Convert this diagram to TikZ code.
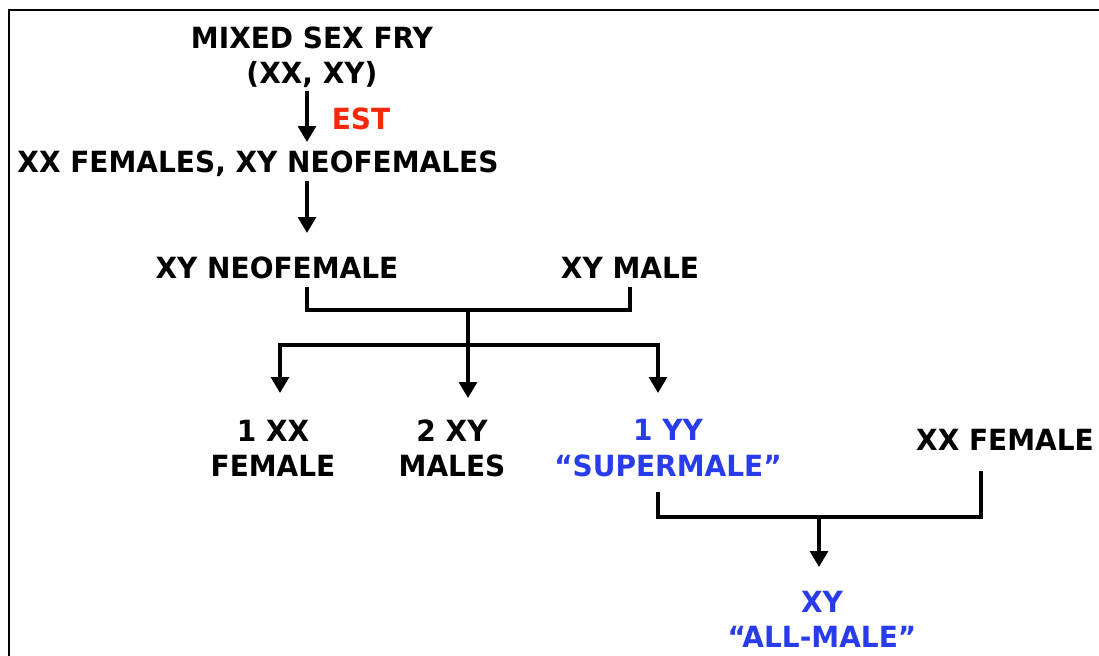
\documentclass[tikz,border=0pt]{standalone}
\usepackage{fontspec}
\setmainfont[FakeStretch=0.96]{DejaVu Sans}
\usetikzlibrary{arrows.meta}
\definecolor{estred}{RGB}{250,40,10}
\definecolor{yyblue}{RGB}{40,60,235}

\begin{document}
\begin{tikzpicture}[
	x=0.02cm, y=-0.02cm,
	txt/.style={ font=\fontsize{16.6}{20}\selectfont\bfseries, align=center, inner sep=2pt },
	txtb/.style={ txt, text=yyblue },
	link/.style={ line width=2.1pt },
	linka/.style={ line width=2.1pt, -{Triangle[length=9pt,width=10pt]} }
]
\useasboundingbox (0,0) rectangle (1099,656);
\draw[line width=1.3pt] (9,656) -- (9,10) -- (1099,10);

\node at (312,57) (fry) [txt] {MIXED SEX FRY\\(XX, XY)};
\node at (361,119) (est) [txt,text=estred] {EST};
\node at (258,164) (mix) [txt] {XX FEMALES, XY NEOFEMALES};

\coordinate (e1) at (307,142);
\draw[linka] (fry.south -| e1) -- (e1);
\coordinate (e2) at (307,233);
\draw[linka] (mix.south -| e2) -- (e2);

\node at (277,268) (neo) [txt,outer ysep=2.5pt] {XY NEOFEMALE};
\node at (630,268) (male) [txt,outer ysep=2.5pt] {XY MALE};

\coordinate (j1l) at (307,310);
\coordinate (j1) at (468,310);
\coordinate (j1r) at (630,310);
\draw[link] (neo.south -| j1l) -- (j1l) -- (j1r) -- (male.south);

\coordinate (j2) at (468,345);
\coordinate (t1) at (280,393);
\coordinate (t2) at (468,398);
\coordinate (t3) at (658,393);
\draw[linka] (j1) -- (t2);
\draw[linka] (j2) -| (t1);
\draw[linka] (j2) -| (t3);

\node at (273,448) (xxf) [txt] {1 XX\\FEMALE};
\node at (452,448) (xym) [txt] {2 XY\\MALES};
\node at (668,448) (yy) [txtb,outer ysep=7pt] {1 YY\\“SUPERMALE”};
\node at (1005,440) (xxfem) [txt,outer ysep=9.5pt] {XX FEMALE};

\coordinate (k1l) at (658,517);
\coordinate (k1) at (819,517);
\coordinate (k1r) at (981,517);
\draw[link] (yy.south -| k1l) -- (k1l) -- (k1r) -- (xxfem.south -| k1r);
\coordinate (t4) at (819,567);
\draw[linka] (k1) -- (t4);

\node at (822,619) (all) [txtb] {XY\\“ALL-MALE”};

\end{tikzpicture}
\end{document}
